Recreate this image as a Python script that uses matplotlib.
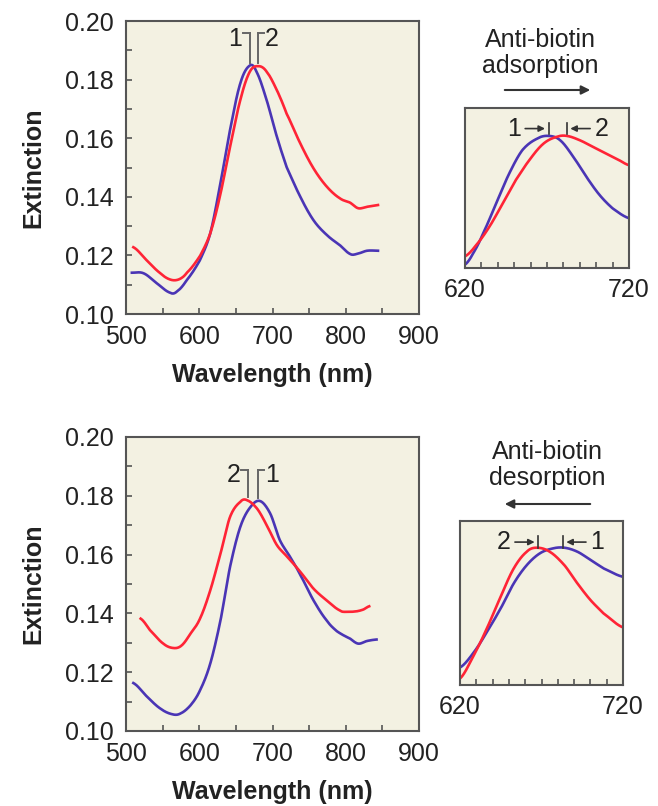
import numpy as np
import matplotlib
matplotlib.use("Agg")
import matplotlib.pyplot as plt
from matplotlib.patches import FancyArrowPatch

plt.rcParams['font.family'] = ['Liberation Sans', 'DejaVu Sans']

# --- main spectra, top panel (adsorption) ---
top_blue_wl = [508, 524, 542, 560, 569, 583, 601, 615, 628, 642, 656, 669, 678, 692, 706, 719, 738, 756, 774, 792, 806, 815, 829, 844]
top_blue_ext = [0.1141, 0.1139, 0.1105, 0.1073, 0.1076, 0.1116, 0.1184, 0.1275, 0.1435, 0.1628, 0.1787, 0.1848, 0.1827, 0.1730, 0.1605, 0.1503, 0.1400, 0.1320, 0.1270, 0.1235, 0.1205, 0.1205, 0.1216, 0.1216]
top_red_wl = [510, 528, 546, 560, 572, 583, 601, 615, 628, 642, 656, 669, 681, 692, 706, 719, 738, 756, 774, 792, 806, 817, 829, 844]
top_red_ext = [0.1228, 0.1184, 0.1141, 0.1118, 0.1118, 0.1141, 0.1198, 0.1275, 0.1400, 0.1570, 0.1730, 0.1827, 0.1846, 0.1827, 0.1764, 0.1685, 0.1582, 0.1497, 0.1435, 0.1395, 0.1380, 0.1361, 0.1366, 0.1372]

# --- main spectra, bottom panel (desorption) ---
bot_blue_wl = [510, 529, 547, 563, 574, 588, 601, 615, 629, 642, 656, 670, 683, 697, 710, 724, 738, 756, 774, 788, 806, 817, 829, 842]
bot_blue_ext = [0.1163, 0.1116, 0.1076, 0.1057, 0.1059, 0.1087, 0.1138, 0.1229, 0.1376, 0.1558, 0.1694, 0.1762, 0.1782, 0.1739, 0.1649, 0.1592, 0.1530, 0.1444, 0.1376, 0.1339, 0.1314, 0.1297, 0.1306, 0.1311]
bot_red_wl = [520, 533, 551, 565, 576, 588, 601, 615, 629, 642, 656, 665, 679, 692, 706, 720, 738, 756, 774, 792, 801, 815, 824, 832]
bot_red_ext = [0.1382, 0.1342, 0.1297, 0.1282, 0.1291, 0.1331, 0.1382, 0.1478, 0.1603, 0.1728, 0.1779, 0.1785, 0.1756, 0.1700, 0.1632, 0.1592, 0.1541, 0.1484, 0.1444, 0.1410, 0.1405, 0.1407, 0.1413, 0.1424]

# --- zoomed peak regions (insets) ---
ins_top_blue_wl = [620, 625, 631, 639, 647, 655, 664, 671, 678, 686, 694, 702, 710, 720]
ins_top_blue = [0.1215, 0.1265, 0.1352, 0.1483, 0.1614, 0.1716, 0.1766, 0.1778, 0.1759, 0.1687, 0.1599, 0.1520, 0.1461, 0.1418]
ins_top_red_wl = [620, 627, 635, 643, 651, 660, 668, 676, 682, 690, 698, 706, 714, 720]
ins_top_red = [0.1251, 0.1302, 0.1382, 0.1483, 0.1585, 0.1679, 0.1745, 0.1774, 0.1778, 0.1759, 0.1730, 0.1701, 0.1672, 0.1650]
ins_bot_blue_wl = [620, 628, 636, 645, 653, 661, 669, 677, 684, 692, 700, 708, 720]
ins_bot_blue = [0.1275, 0.1335, 0.1421, 0.1527, 0.1634, 0.1712, 0.1762, 0.1783, 0.1786, 0.1769, 0.1734, 0.1698, 0.1662]
ins_bot_red_wl = [620, 628, 636, 645, 653, 661, 667, 675, 684, 692, 700, 708, 720]
ins_bot_red = [0.1228, 0.1321, 0.1435, 0.1577, 0.1698, 0.1769, 0.1786, 0.1769, 0.1712, 0.1634, 0.1563, 0.1506, 0.1446]

BLUE = '#4a35b5'
RED = '#ff2436'
BG = '#f3f1e2'
SPINE = '#555555'
GRAY = '#666666'
TXT = '#222222'
FS = 18
LW = 1.9


def smooth(wl, ext):
    # Catmull-Rom curve through the read points
    wl = np.asarray(wl, float)
    ext = np.asarray(ext, float)
    xs = np.linspace(wl[0], wl[-1], 400)
    ys = np.empty_like(xs)
    for k, x in enumerate(xs):
        i = np.searchsorted(wl, x) - 1
        i = min(max(i, 0), len(wl) - 2)
        p0 = ext[max(i - 1, 0)]; p1 = ext[i]; p2 = ext[i + 1]; p3 = ext[min(i + 2, len(wl) - 1)]
        t = (x - wl[i]) / (wl[i + 1] - wl[i])
        ys[k] = 0.5 * ((2 * p1) + (-p0 + p2) * t + (2 * p0 - 5 * p1 + 4 * p2 - p3) * t ** 2
                       + (-p0 + 3 * p1 - 3 * p2 + p3) * t ** 3)
    return xs, ys


def style_main(ax):
    ax.set_facecolor(BG)
    ax.set_xlim(500, 900)
    ax.set_ylim(0.10, 0.20)
    ax.set_xticks(np.arange(500, 901, 100))
    ax.set_xticks(np.arange(550, 900, 100), minor=True)
    ax.set_yticks(np.arange(0.10, 0.201, 0.02))
    ax.set_yticks(np.arange(0.11, 0.20, 0.02), minor=True)
    ax.set_yticklabels(['0.10', '0.12', '0.14', '0.16', '0.18', '0.20'])
    ax.tick_params(which='both', direction='in', length=4, width=1.2, color=SPINE,
                   labelsize=FS, labelcolor=TXT, top=False, right=False)
    ax.tick_params(axis='x', pad=8)
    ax.tick_params(axis='y', pad=9)
    for s in ax.spines.values():
        s.set_color(SPINE)
        s.set_linewidth(1.5)
    ax.set_ylabel('Extinction', fontsize=FS, fontweight='bold', labelpad=14, color=TXT)
    ax.set_xlabel('Wavelength (nm)', fontsize=FS, fontweight='bold', labelpad=10, color=TXT)


def bracket(ax, xl, xr, yl, yr, ytop, lab_l, lab_r):
    # vertical lines from peaks up, with short outward arms and numbers
    ax.plot([xl, xl], [yl + 0.001, ytop], color=GRAY, lw=1.4)
    ax.plot([xr, xr], [yr + 0.001, ytop], color=GRAY, lw=1.4)
    ax.plot([xl - 9, xl], [ytop, ytop], color=GRAY, lw=1.4)
    ax.plot([xr, xr + 9], [ytop, ytop], color=GRAY, lw=1.4)
    ax.text(xl - 10, ytop - 0.0018, lab_l, fontsize=FS, ha='right', va='center', color=TXT)
    ax.text(xr + 10, ytop - 0.0018, lab_r, fontsize=FS, ha='left', va='center', color=TXT)


def style_inset(ax):
    ax.set_facecolor(BG)
    ax.set_xlim(620, 720)
    ax.set_ylim(0.12, 0.19)
    ax.set_xticks([620, 720])
    ax.set_xticklabels(['620', '720'])
    ax.set_xticks(np.arange(630, 720, 10), minor=True)
    ax.set_yticks([])
    ax.tick_params(which='both', direction='in', length=4, width=1.2, color=SPINE,
                   labelsize=FS, labelcolor=TXT, pad=7)
    for s in ax.spines.values():
        s.set_color(SPINE)
        s.set_linewidth(1.5)


def inset_marks(ax, xl, xr, lab_l, lab_r):
    y = 0.181
    for x in (xl, xr):
        ax.plot([x, x], [y - 0.0025, y + 0.0025], color='#333333', lw=1.2)
    ax.annotate('', xy=(xl - 0.5, y), xytext=(xl - 16, y),
                arrowprops=dict(arrowstyle='-|>', color='#333333', lw=1.2, mutation_scale=9))
    ax.annotate('', xy=(xr + 0.5, y), xytext=(xr + 16, y),
                arrowprops=dict(arrowstyle='-|>', color='#333333', lw=1.2, mutation_scale=9))
    ax.text(xl - 17, y, lab_l, fontsize=FS, ha='right', va='center', color=TXT)
    ax.text(xr + 17, y, lab_r, fontsize=FS, ha='left', va='center', color=TXT)


fig = plt.figure(figsize=(6.58, 8.06), dpi=100)
fig.patch.set_facecolor('white')

ax1 = fig.add_axes([0.1915, 0.6104, 0.4453, 0.3635])
ax2 = fig.add_axes([0.1915, 0.0931, 0.4453, 0.3648])
ax3 = fig.add_axes([0.7067, 0.6675, 0.2492, 0.1985])
ax4 = fig.add_axes([0.6991, 0.1501, 0.2477, 0.2035])

# top main
ax1.plot(*smooth(top_blue_wl, top_blue_ext), color=BLUE, lw=LW)
ax1.plot(*smooth(top_red_wl, top_red_ext), color=RED, lw=LW)
style_main(ax1)
bracket(ax1, 669, 680, 0.1848, 0.1846, 0.1958, '1', '2')

# bottom main
ax2.plot(*smooth(bot_blue_wl, bot_blue_ext), color=BLUE, lw=LW)
ax2.plot(*smooth(bot_red_wl, bot_red_ext), color=RED, lw=LW)
style_main(ax2)
bracket(ax2, 666, 680, 0.1785, 0.1782, 0.1887, '2', '1')

# insets
ax3.plot(*smooth(ins_top_blue_wl, ins_top_blue), color=BLUE, lw=LW)
ax3.plot(*smooth(ins_top_red_wl, ins_top_red), color=RED, lw=LW)
style_inset(ax3)
inset_marks(ax3, 671, 682, '1', '2')

ax4.plot(*smooth(ins_bot_blue_wl, ins_bot_blue), color=BLUE, lw=LW)
ax4.plot(*smooth(ins_bot_red_wl, ins_bot_red), color=RED, lw=LW)
style_inset(ax4)
inset_marks(ax4, 668, 683, '2', '1')

# titles + direction arrows above insets
fig.text(540 / 658, 1 - 53 / 806, 'Anti-biotin\nadsorption', ha='center', va='center',
         fontsize=FS, color=TXT, linespacing=1.1)
fig.add_artist(FancyArrowPatch((502 / 658, 1 - 90 / 806), (593 / 658, 1 - 90 / 806),
                               transform=fig.transFigure, arrowstyle='-|>',
                               mutation_scale=13, color='#333333', lw=1.5))
fig.text(547 / 658, 1 - 465 / 806, 'Anti-biotin\ndesorption', ha='center', va='center',
         fontsize=FS, color=TXT, linespacing=1.1)
fig.add_artist(FancyArrowPatch((593 / 658, 1 - 504 / 806), (502 / 658, 1 - 504 / 806),
                               transform=fig.transFigure, arrowstyle='-|>',
                               mutation_scale=13, color='#333333', lw=1.5))

fig.savefig('out.png', dpi=100, facecolor='white')
